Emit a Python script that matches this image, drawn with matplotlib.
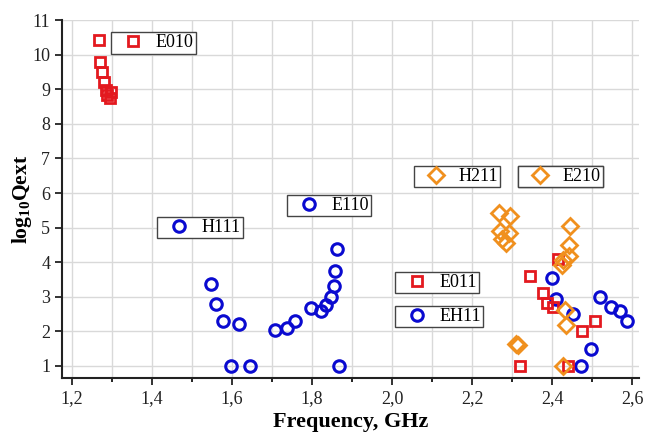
import matplotlib
matplotlib.use("Agg")
import matplotlib.pyplot as plt

plt.rcParams['font.family'] = ['Liberation Serif', 'DejaVu Serif']
plt.rcParams['mathtext.fontset'] = 'custom'
plt.rcParams['mathtext.rm'] = 'Liberation Serif'
plt.rcParams['mathtext.bf'] = 'Liberation Serif:bold'
plt.rcParams['mathtext.it'] = 'Liberation Serif:italic'

# ---- data ----
e010_f = [1.267, 1.270, 1.275, 1.280, 1.285, 1.288, 1.297, 1.295]
e010_v = [10.43, 9.80, 9.51, 9.22, 8.97, 8.84, 8.93, 8.74]

h111_f = [1.547, 1.559, 1.578, 1.617, 1.598, 1.645]
h111_v = [3.37, 2.78, 2.31, 2.20, 1.0, 1.0]

e110_f = [1.707, 1.737, 1.757, 1.798, 1.822, 1.835, 1.847, 1.855, 1.858, 1.863, 1.867]
e110_v = [2.04, 2.09, 2.31, 2.67, 2.60, 2.76, 2.98, 3.31, 3.75, 4.38, 1.0]

h211_f = [2.268, 2.296, 2.270, 2.293, 2.274, 2.285, 2.310, 2.316]
h211_v = [5.43, 5.33, 4.91, 4.84, 4.66, 4.56, 1.62, 1.61]

e210_f = [2.445, 2.443, 2.442, 2.428, 2.424, 2.433, 2.435, 2.428]
e210_v = [5.04, 4.51, 4.18, 4.06, 3.92, 2.61, 2.18, 1.0]

e011_f = [2.345, 2.378, 2.388, 2.403, 2.416, 2.508, 2.474, 2.320, 2.441]
e011_v = [3.61, 3.12, 2.83, 2.69, 4.08, 2.31, 2.02, 1.0, 1.0]

eh11_f = [2.399, 2.410, 2.452, 2.521, 2.548, 2.570, 2.587, 2.497, 2.473]
eh11_v = [3.55, 2.93, 2.49, 2.99, 2.70, 2.60, 2.31, 1.49, 1.0]

x_ticks = [1.2, 1.4, 1.6, 1.8, 2.0, 2.2, 2.4, 2.6]
x_ticklabels = ['1,2', '1,4', '1,6', '1,8', '2,0', '2,2', '2,4', '2,6']
x_minor = [1.3, 1.5, 1.7, 1.9, 2.1, 2.3, 2.5]
y_ticks = [1, 2, 3, 4, 5, 6, 7, 8, 9, 10, 11]

RED = '#e3191f'
BLUE = '#0a0ad0'
ORANGE = '#f0901e'

fig = plt.figure(figsize=(6.55, 4.38), dpi=100)
ax = fig.add_axes([0.0947, 0.137, 0.881, 0.817])

sq = dict(ls='none', marker='s', ms=7.2, mfc='none', mew=2.0, mec=RED)
ci = dict(ls='none', marker='o', ms=8.3, mfc='none', mew=2.2, mec=BLUE)
di = dict(ls='none', marker='D', ms=8, mfc='none', mew=2.0, mec=ORANGE)

series = [
    ('E010', e010_f, e010_v, sq, (0.085, 0.966)),
    ('H111', h111_f, h111_v, ci, (0.165, 0.450)),
    ('E110', e110_f, e110_v, ci, (0.390, 0.511)),
    ('EH11', eh11_f, eh11_v, ci, (0.577, 0.201)),
    ('E011', e011_f, e011_v, sq, (0.577, 0.296)),
    ('H211', h211_f, h211_v, di, (0.610, 0.592)),
    ('E210', e210_f, e210_v, di, (0.790, 0.592)),
]

for name, fx, fy, st, anchor in series:
    ln, = ax.plot(fx, fy, zorder=3, **st)
    leg = ax.legend([ln], [name], loc='upper left', bbox_to_anchor=anchor,
                    borderaxespad=0, frameon=True, fancybox=False,
                    handlelength=2.2, handletextpad=0.15, borderpad=0.12,
                    fontsize=13, framealpha=1, edgecolor='#444444')
    leg.get_frame().set_linewidth(1.0)
    leg.set_zorder(5)
    ax.add_artist(leg)

ax.set_xlim(1.175, 2.6175)
ax.set_ylim(0.65, 11.0)
ax.set_xticks(x_ticks)
ax.set_xticklabels(x_ticklabels)
ax.set_xticks(x_minor, minor=True)
ax.set_yticks(y_ticks)

ax.grid(True, which='both', axis='x', color='#d9d9d9', lw=1.0, zorder=0)
ax.grid(True, which='major', axis='y', color='#d9d9d9', lw=1.0, zorder=0)
ax.set_axisbelow(True)

for s in ['top', 'right']:
    ax.spines[s].set_visible(False)
for s in ['left', 'bottom']:
    ax.spines[s].set_linewidth(1.5)
    ax.spines[s].set_color('#222222')

ax.tick_params(axis='both', which='major', direction='out', length=5, width=1.3,
               labelsize=13, colors='#222222')
ax.tick_params(axis='x', which='minor', direction='out', length=3, width=1.2)

ax.set_xlabel('Frequency, GHz', fontsize=16, fontweight='bold', labelpad=4)
ax.set_ylabel(r'$\mathbf{log_{10}Qext}$', fontsize=15.5, labelpad=-1)

fig.savefig('out.png', dpi=100)
